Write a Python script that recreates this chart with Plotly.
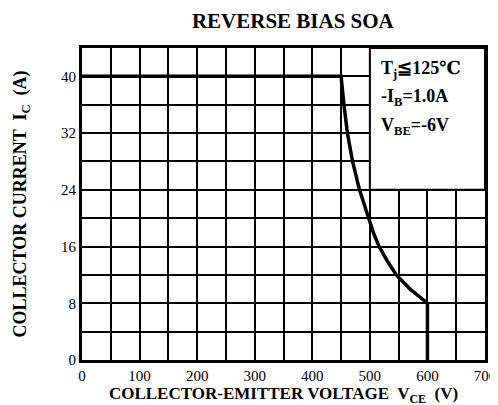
import plotly.graph_objects as go

# Safe operating area boundary
vce = [0, 450, 455, 461, 470, 482, 498, 506, 516, 530, 546, 570, 600, 600]
ic = [40, 40, 36, 32, 28, 24, 20, 18, 16, 14, 12, 10, 8, 0]

x_ticks = [0, 100, 200, 300, 400, 500, 600, 700]
y_ticks = [0, 8, 16, 24, 32, 40]

title_text = "REVERSE BIAS SOA"
x_title = "COLLECTOR-EMITTER VOLTAGE  V<sub>CE</sub>  (V)"
y_title = "COLLECTOR CURRENT  I<sub>C</sub>  (A)"
cond_lines = ["T<sub>j</sub>≦125℃", "-I<sub>B</sub>=1.0A", "V<sub>BE</sub>=-6V"]
cond_y = [41.0, 37.0, 33.0]

FONT = "Liberation Serif, DejaVu Serif, serif"

fig = go.Figure()
fig.add_trace(go.Scatter(x=vce, y=ic, mode="lines",
                         line=dict(color="black", width=3.5),
                         hoverinfo="skip", showlegend=False))

# Conditions box
fig.add_shape(type="rect", x0=500, x1=700, y0=24, y1=44, xref="x", yref="y",
              fillcolor="white", line=dict(color="black", width=2), layer="above")
for t, yy in zip(cond_lines, cond_y):
    fig.add_annotation(x=516, y=yy, xref="x", yref="y", text="<b>" + t + "</b>",
                       showarrow=False, xanchor="left", yanchor="middle",
                       font=dict(family=FONT, size=18, color="black"))

fig.update_layout(
    width=498, height=405,
    margin=dict(l=74, r=10, t=40, b=53),
    paper_bgcolor="white", plot_bgcolor="white",
    showlegend=False,
    title=dict(text="<b>" + title_text + "</b>", x=0.572, xanchor="center",
               y=0.968, yanchor="middle",
               font=dict(family=FONT, size=21, color="black")),
    font=dict(family=FONT, size=14, color="black"),
)

fig.update_xaxes(
    range=[0, 700], tickvals=x_ticks, ticktext=[str(v) for v in x_ticks],
    showgrid=True, gridcolor="black", gridwidth=2,
    minor=dict(dtick=50, tick0=0, showgrid=True, gridcolor="black", gridwidth=2),
    showline=True, linecolor="black", linewidth=3, mirror=True,
    ticks="", zeroline=False,
    tickfont=dict(family=FONT, size=15, color="black"),
    title=dict(text="<b>" + x_title + "</b>", standoff=1,
               font=dict(family=FONT, size=17, color="black")),
)
fig.update_yaxes(
    range=[0, 44], tickvals=y_ticks, ticktext=[str(v) for v in y_ticks],
    showgrid=True, gridcolor="black", gridwidth=2,
    minor=dict(dtick=4, tick0=0, showgrid=True, gridcolor="black", gridwidth=2),
    showline=True, linecolor="black", linewidth=3, mirror=True,
    ticks="", zeroline=False,
    tickfont=dict(family=FONT, size=15, color="black"),
    title=dict(text="<b>" + y_title + "</b>", standoff=30,
               font=dict(family=FONT, size=18, color="black")),
)

fig.write_html("out.html")
